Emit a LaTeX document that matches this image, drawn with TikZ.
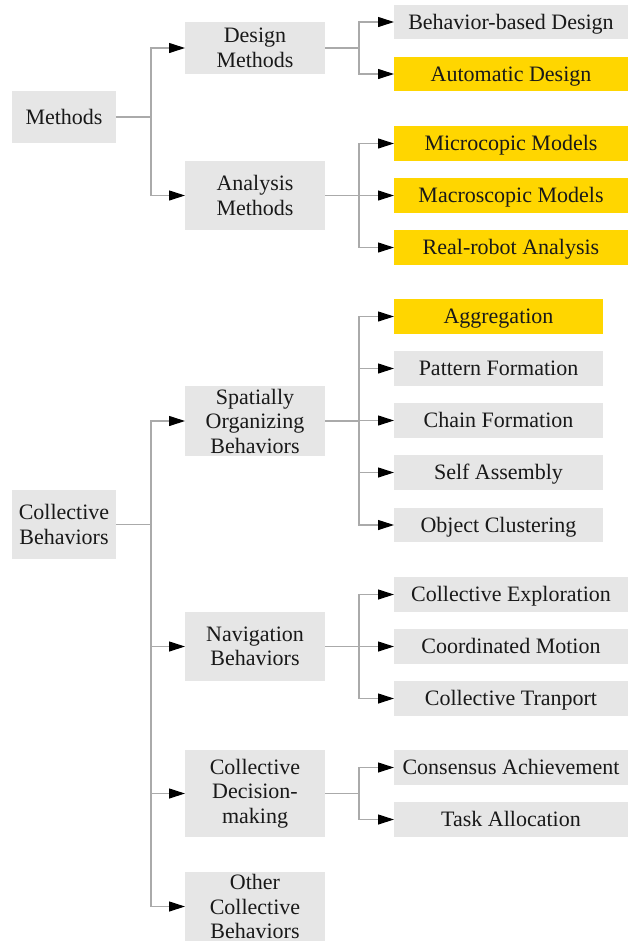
\documentclass[tikz,border=0pt]{standalone}
\usepackage{fontspec}
\setmainfont{Liberation Serif}
\usetikzlibrary{arrows.meta}
\definecolor{boxgray}{RGB}{230,230,230}
\definecolor{boxgold}{RGB}{255,214,0}
\definecolor{linegray}{RGB}{170,170,170}
\newcommand{\bx}[7]{%
  \node[box,fill=#6,minimum width={(#4-#2)*1pt},minimum height={(#5-#3)*1pt}]
    (#1) at ({(#2+#4)/2},{(#3+#5)/2}) {#7};}
\newcommand{\bxs}[7]{%
  \node[box,oneline,fill=#6,minimum width={(#4-#2)*1pt},minimum height={(#5-#3)*1pt}]
    (#1) at ({(#2+#4)/2},{(#3+#5)/2}) {#7};}
\begin{document}
\begin{tikzpicture}[x=1pt,y=-1pt,
  box/.style={inner sep=0pt,outer sep=0pt,align=center,
    font=\fontsize{22}{24.5}\selectfont,text=black!90},
  oneline/.style={text height=14.5pt,text depth=0pt},
  conn/.style={draw=linegray,line width=1.1pt,
    -{Triangle[length=16pt,width=10pt,color=black]}}]
\useasboundingbox (0,0) rectangle (628,943);
% Methods tree
\bxs{m}{12}{91}{116}{143}{boxgray}{Methods}
\bx{dm}{185}{22}{325}{74}{boxgray}{Design\\Methods}
\bx{am}{185}{161}{325}{230}{boxgray}{Analysis\\Methods}
\bxs{bbd}{394}{5}{628}{39}{boxgray}{Behavior-based Design}
\bxs{ad}{394}{57}{628}{91}{boxgold}{Automatic Design}
\bxs{mic}{394}{126}{628}{161}{boxgold}{Microcopic Models}
\bxs{mac}{394}{178}{628}{213}{boxgold}{Macroscopic Models}
\bxs{rra}{394}{230}{628}{265}{boxgold}{Real-robot Analysis}
% Collective behaviors tree
\bx{cb}{12}{490}{116}{559}{boxgray}{Collective\\Behaviors}
\bx{sob}{185}{386}{325}{456}{boxgray}{Spatially\\Organizing\\Behaviors}
\bxs{agg}{394}{299}{603}{334}{boxgold}{Aggregation}
\bxs{pf}{394}{351}{603}{386}{boxgray}{Pattern Formation}
\bxs{cf}{394}{403}{603}{438}{boxgray}{Chain Formation}
\bxs{sa}{394}{455}{603}{490}{boxgray}{Self Assembly}
\bxs{oc}{394}{508}{603}{542}{boxgray}{Object Clustering}
\bx{nb}{185}{612}{325}{681}{boxgray}{Navigation\\Behaviors}
\bxs{ce}{394}{577}{628}{612}{boxgray}{Collective Exploration}
\bxs{cm}{394}{629}{628}{664}{boxgray}{Coordinated Motion}
\bxs{ct}{394}{681}{628}{716}{boxgray}{Collective Tranport}
\bx{cdm}{185}{750}{325}{837}{boxgray}{Collective\\Decision-\\making}
\bxs{ca}{394}{750}{628}{785}{boxgray}{Consensus Achievement}
\bxs{ta}{394}{802}{628}{837}{boxgray}{Task Allocation}
\bx{ocb}{185}{872}{325}{941}{boxgray}{Other\\Collective\\Behaviors}
% branch points
\coordinate (b1) at (151,117);
\coordinate (b2) at (359,48);
\coordinate (b3) at (359,195.5);
\coordinate (b4) at (151,524.5);
\coordinate (b5) at (359,421);
\coordinate (b6) at (359,646.5);
\coordinate (b7) at (359,793.5);
% connectors
\foreach \c in {dm,am} \draw[conn] (m.east) -- (b1) |- (\c.west);
\foreach \c in {bbd,ad} \draw[conn] (dm.east) -- (b2) |- (\c.west);
\foreach \c in {mic,mac,rra} \draw[conn] (am.east) -- (b3) |- (\c.west);
\foreach \c in {sob,nb,cdm,ocb} \draw[conn] (cb.east) -- (b4) |- (\c.west);
\foreach \c in {agg,pf,cf,sa,oc} \draw[conn] (sob.east) -- (b5) |- (\c.west);
\foreach \c in {ce,cm,ct} \draw[conn] (nb.east) -- (b6) |- (\c.west);
\foreach \c in {ca,ta} \draw[conn] (cdm.east) -- (b7) |- (\c.west);
\end{tikzpicture}
\end{document}
